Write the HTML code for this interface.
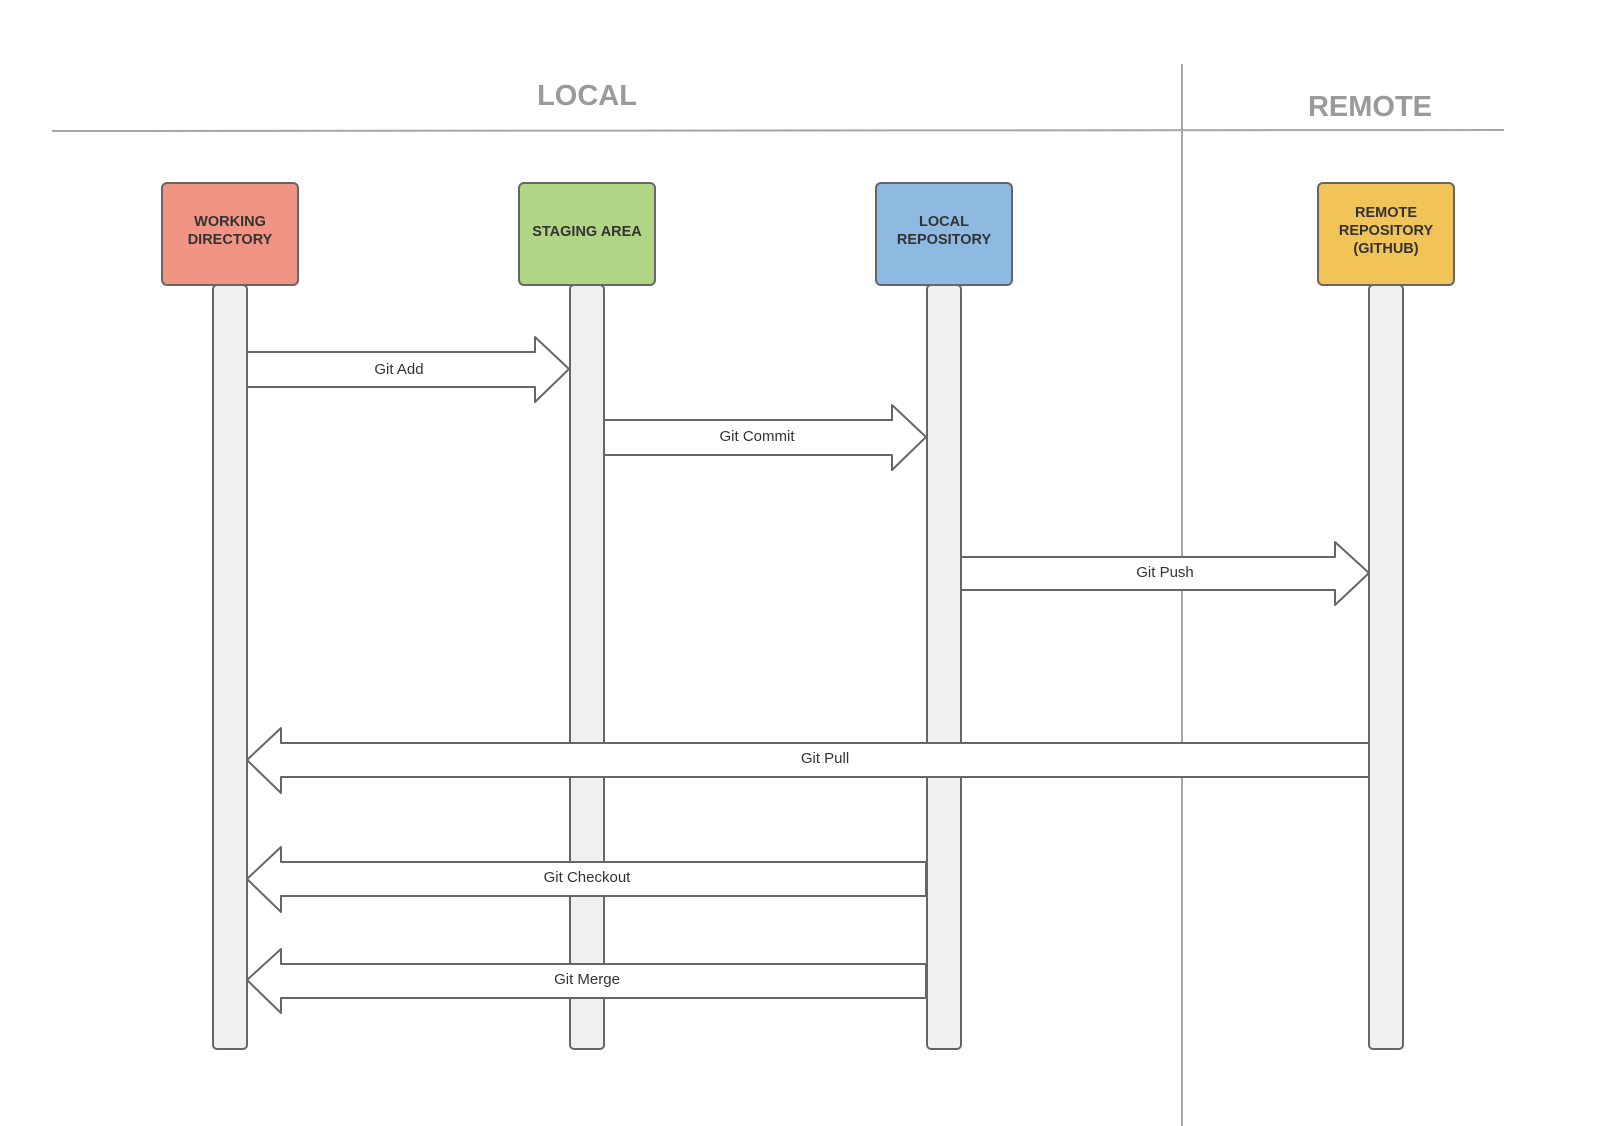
<!DOCTYPE html>
<html><head><meta charset="utf-8"><style>
html,body{margin:0;padding:0;background:#fff;}
svg{display:block;}
text{font-family:"Liberation Sans",Arial,sans-serif;}
</style></head><body>
<svg width="1618" height="1126" viewBox="0 0 1618 1126" xmlns="http://www.w3.org/2000/svg">
<rect width="1618" height="1126" fill="#fff"/>
<line x1="52" y1="131" x2="1504" y2="130" stroke="#a6a6a6" stroke-width="2"/>
<line x1="1182" y1="64" x2="1182" y2="1126" stroke="#a6a6a6" stroke-width="2"/>
<text x="587" y="105" font-size="29" font-weight="bold" fill="#9a9a9a" text-anchor="middle">LOCAL</text>
<text x="1370" y="116" font-size="29" font-weight="bold" fill="#9a9a9a" text-anchor="middle">REMOTE</text>

<g stroke="#666" stroke-width="2" fill="#f0f0f0">
<rect x="213" y="285" width="34" height="764" rx="4"/>
<rect x="570" y="285" width="34" height="764" rx="4"/>
<rect x="927" y="285" width="34" height="764" rx="4"/>
<rect x="1369" y="285" width="34" height="764" rx="4"/>
</g>
<g stroke="#666" stroke-width="2">
<rect x="162" y="183" width="136" height="102" rx="5" fill="#f09484"/>
<rect x="519" y="183" width="136" height="102" rx="5" fill="#afd585"/>
<rect x="876" y="183" width="136" height="102" rx="5" fill="#8eb9e1"/>
<rect x="1318" y="183" width="136" height="102" rx="5" fill="#f2c357"/>
</g>
<g font-size="14.5" font-weight="bold" fill="#333" text-anchor="middle">
<text x="230" y="226">WORKING</text><text x="230" y="244">DIRECTORY</text>
<text x="587" y="236">STAGING AREA</text>
<text x="944" y="226">LOCAL</text><text x="944" y="244">REPOSITORY</text>
<text x="1386" y="217">REMOTE</text><text x="1386" y="235">REPOSITORY</text><text x="1386" y="253">(GITHUB)</text>
</g>

<g stroke="#666" stroke-width="2" fill="#fff" stroke-linejoin="round">
<path d="M247 352 H535 V337 L569 369 L535 402 V387 H247 Z"/>
<path d="M604 420 H892 V405 L926 437 L892 470 V455 H604 Z"/>
<path d="M961 557 H1335 V542 L1369 573 L1335 605 V590 H961 Z"/>
<path d="M1369 743 H281 V728 L247 760 L281 793 V777 H1369 Z"/>
<path d="M926 862 H281 V847 L247 879 L281 912 V896 H926 Z"/>
<path d="M926 964 H281 V949 L247 980 L281 1013 V998 H926 Z"/>
</g>
<g font-size="15" fill="#333" text-anchor="middle">
<text x="399" y="374">Git Add</text>
<text x="757" y="441">Git Commit</text>
<text x="1165" y="577">Git Push</text>
<text x="825" y="763">Git Pull</text>
<text x="587" y="882">Git Checkout</text>
<text x="587" y="984">Git Merge</text>
</g>
</svg>
</body></html>
